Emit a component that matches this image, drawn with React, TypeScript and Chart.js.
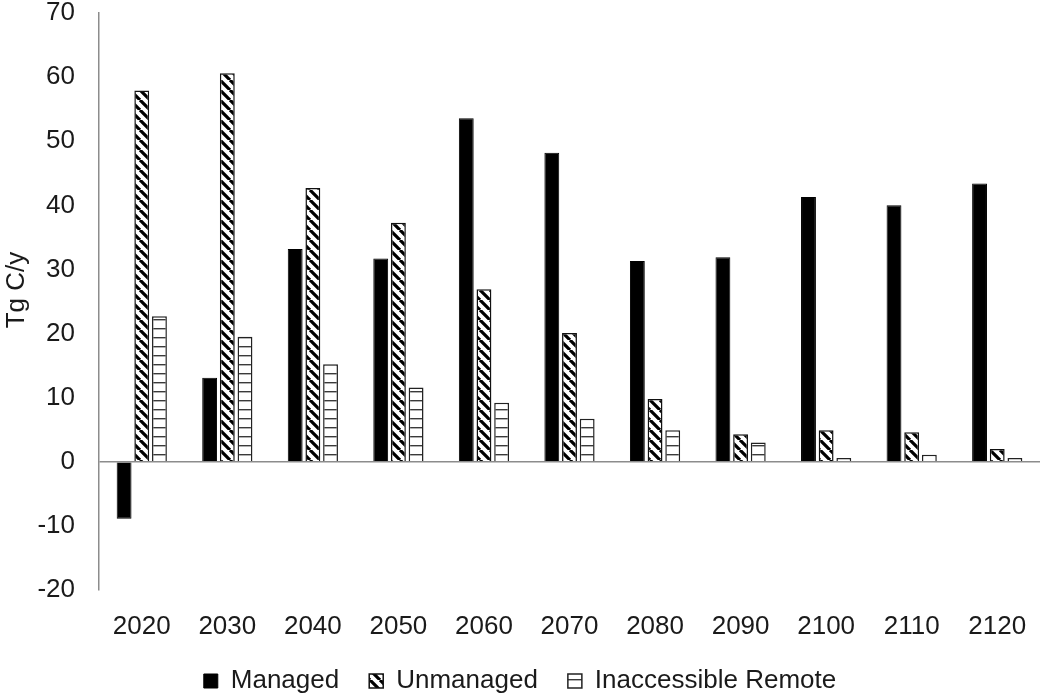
import React, { useEffect, useRef } from "react";
import { Chart, registerables } from "chart.js";

Chart.register(...registerables);

const categories = ["2020", "2030", "2040", "2050", "2060", "2070", "2080", "2090", "2100", "2110", "2120"];
const managed = [-8.9, 13.1, 33.2, 31.7, 53.6, 48.2, 31.3, 31.9, 41.3, 40.0, 43.4];
const unmanaged = [57.9, 60.6, 42.7, 37.3, 26.9, 20.1, 9.8, 4.3, 4.9, 4.6, 2.0];
const inaccessible = [22.7, 19.5, 15.2, 11.6, 9.2, 6.7, 4.9, 3.0, 0.6, 1.1, 0.6];
const seriesNames = ["Managed", "Unmanaged", "Inaccessible Remote"];
const yTitle = "Tg C/y";

const FONT = "'Liberation Sans', Arial, sans-serif";
const FS = 26;

function diagPattern(ctx: CanvasRenderingContext2D): CanvasPattern | string {
  const s = 10;
  const c = document.createElement("canvas");
  c.width = s;
  c.height = s;
  const g = c.getContext("2d")!;
  g.fillStyle = "#ffffff";
  g.fillRect(0, 0, s, s);
  g.strokeStyle = "#000000";
  g.lineWidth = 3.2;
  g.beginPath();
  for (const k of [-s, 0, s]) {
    g.moveTo(k, 0);
    g.lineTo(k + s, s);
  }
  g.stroke();
  return ctx.createPattern(c, "repeat") || "#fff";
}

function horizPattern(ctx: CanvasRenderingContext2D): CanvasPattern | string {
  const w = 8;
  const h = 9;
  const c = document.createElement("canvas");
  c.width = w;
  c.height = h;
  const g = c.getContext("2d")!;
  g.fillStyle = "#ffffff";
  g.fillRect(0, 0, w, h);
  g.fillStyle = "#3a3a3a";
  g.fillRect(0, 4, w, 1.4);
  return ctx.createPattern(c, "repeat") || "#fff";
}

const yTitlePlugin = {
  id: "yTitleManual",
  afterDraw(chart: any) {
    const { ctx } = chart;
    ctx.save();
    ctx.translate(17, 290);
    ctx.rotate(-Math.PI / 2);
    ctx.font = `${FS}px ${FONT}`;
    ctx.fillStyle = "#1a1a1a";
    ctx.textAlign = "center";
    ctx.textBaseline = "middle";
    ctx.fillText(yTitle, 0, 0);
    ctx.restore();
  },
};

export default function App() {
  const ref = useRef<HTMLCanvasElement | null>(null);

  useEffect(() => {
    document.body.style.margin = "0";
    const canvas = ref.current!;
    const ctx = canvas.getContext("2d")!;
    const chart = new Chart(ctx, {
      type: "bar",
      data: {
        labels: categories,
        datasets: [
          {
            label: seriesNames[0],
            data: managed,
            backgroundColor: "#000000",
            borderColor: "#000000",
            borderWidth: 1,
          },
          {
            label: seriesNames[1],
            data: unmanaged,
            backgroundColor: diagPattern(ctx) as any,
            borderColor: "#111111",
            borderWidth: 1.5,
          },
          {
            label: seriesNames[2],
            data: inaccessible,
            backgroundColor: horizPattern(ctx) as any,
            borderColor: "#222222",
            borderWidth: 1.5,
          },
        ],
      },
      options: {
        animation: false,
        responsive: false,
        maintainAspectRatio: false,
        layout: { padding: { left: 0, right: 10, top: 0, bottom: 0 } },
        datasets: {
          bar: { categoryPercentage: 0.62, barPercentage: 0.84 },
        },
        scales: {
          x: {
            grid: { display: false, drawTicks: false },
            border: { display: false },
            ticks: {
              font: { family: FONT, size: FS },
              color: "#1a1a1a",
              padding: 21,
              maxRotation: 0,
            },
            afterFit: (scale: any) => {
              scale.height = 48;
            },
          },
          y: {
            min: -20,
            max: 70,
            ticks: {
              stepSize: 10,
              font: { family: FONT, size: FS },
              color: "#1a1a1a",
              padding: 24,
            },
            grid: {
              drawTicks: false,
              color: (c: any) => (c.tick && c.tick.value === 0 ? "#8c8c8c" : "rgba(0,0,0,0)"),
              lineWidth: 1.5,
            },
            border: { display: true, color: "#8c8c8c", width: 1.5 },
            afterFit: (scale: any) => {
              scale.width = 99;
              scale.paddingTop = 13;
              scale.paddingBottom = 0;
            },
          },
        },
        plugins: {
          legend: {
            position: "bottom",
            maxHeight: 58,
            labels: {
              font: { family: FONT, size: FS },
              color: "#1a1a1a",
              boxWidth: 14,
              boxHeight: 14,
              padding: 30,
            },
          },
          tooltip: { enabled: false },
        },
      },
      plugins: [yTitlePlugin],
    });
    return () => chart.destroy();
  }, []);

  return (
    <div style={{ width: 1050, height: 696 }}>
      <canvas ref={ref} width={1050} height={696} style={{ display: "block" }} />
    </div>
  );
}
